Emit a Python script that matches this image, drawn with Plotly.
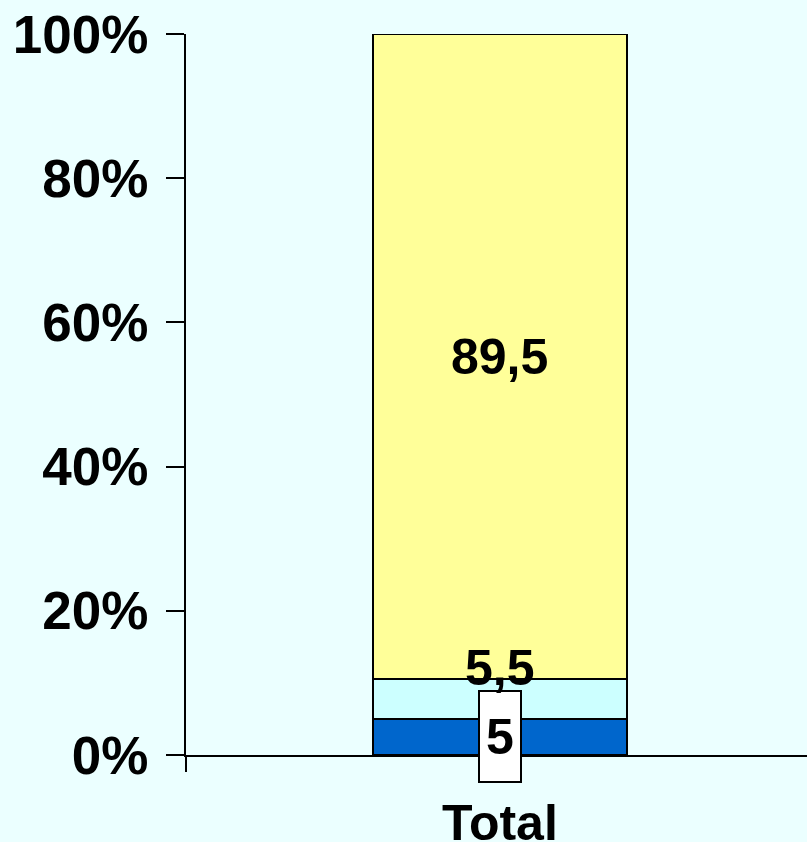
import plotly.graph_objects as go

categories = ["Total"]
series_names = ["Serie 1", "Serie 2", "Serie 3"]
values_s1 = [5]
values_s2 = [5.5]
values_s3 = [89.5]
y_tick_vals = [0, 20, 40, 60, 80, 100]
y_tick_text = ["0%", "20%", "40%", "60%", "80%", "100%"]

colors = ["#0066CC", "#CCFFFF", "#FFFF99"]
bg = "#EBFFFF"
font_family = "Liberation Sans, Arial, sans-serif"

fig = go.Figure()
series = [values_s1, values_s2, values_s3]
for name, vals, col in zip(series_names, series, colors):
    fig.add_trace(go.Bar(
        x=categories, y=vals, name=name, width=0.405,
        marker=dict(color=col, line=dict(color="black", width=2)),
        hoverinfo="skip",
    ))

def fmt(v):
    return ("%g" % v).replace(".", ",")

cum = 0
label_specs = []
for vals in series:
    v = vals[0]
    label_specs.append((cum + v / 2, v))
    cum += v

bold = dict(family=font_family, size=50, color="black")
y1, v1 = label_specs[0]
fig.add_annotation(x=categories[0], y=y1, text="<b>%s</b>" % fmt(v1), showarrow=False,
                   font=bold, bgcolor="white", bordercolor="black", borderwidth=2,
                   borderpad=0, width=40, height=89, yshift=0)
y2, v2 = label_specs[1]
fig.add_annotation(x=categories[0], y=y2, text="<b>%s</b>" % fmt(v2), showarrow=False,
                   font=bold, yshift=31)
y3, v3 = label_specs[2]
fig.add_annotation(x=categories[0], y=y3, text="<b>%s</b>" % fmt(v3), showarrow=False,
                   font=bold, yshift=0)

fig.update_layout(
    width=807, height=842,
    margin=dict(l=186, r=0, t=34, b=87, autoexpand=False),
    paper_bgcolor=bg, plot_bgcolor=bg,
    barmode="stack", showlegend=False,
    font=dict(family=font_family, color="black"),
    xaxis=dict(
        range=[-0.5, 0.489], showline=True, linecolor="black", linewidth=2,
        ticks="outside", tickson="boundaries", ticklen=15, tickwidth=2, tickcolor="black",
        tickfont=dict(family=font_family, size=50, color="black"),
        tickvals=categories, ticktext=["<b>%s</b>" % c for c in categories],
        showgrid=False, zeroline=False, ticklabelstandoff=23, automargin=False,
    ),
    yaxis=dict(
        range=[0, 100], showline=True, linecolor="black", linewidth=2,
        ticks="outside", ticklen=18, tickwidth=2, tickcolor="black",
        tickvals=y_tick_vals, ticktext=["<b>%s</b>" % t for t in y_tick_text],
        tickfont=dict(family=font_family, size=53, color="black"),
        showgrid=False, zeroline=False, ticklabelstandoff=7, automargin=False,
    ),
)

fig.write_html("out.html", config={"displayModeBar": False},
               post_script="document.body.style.margin='0';document.body.style.background='%s';" % bg)
